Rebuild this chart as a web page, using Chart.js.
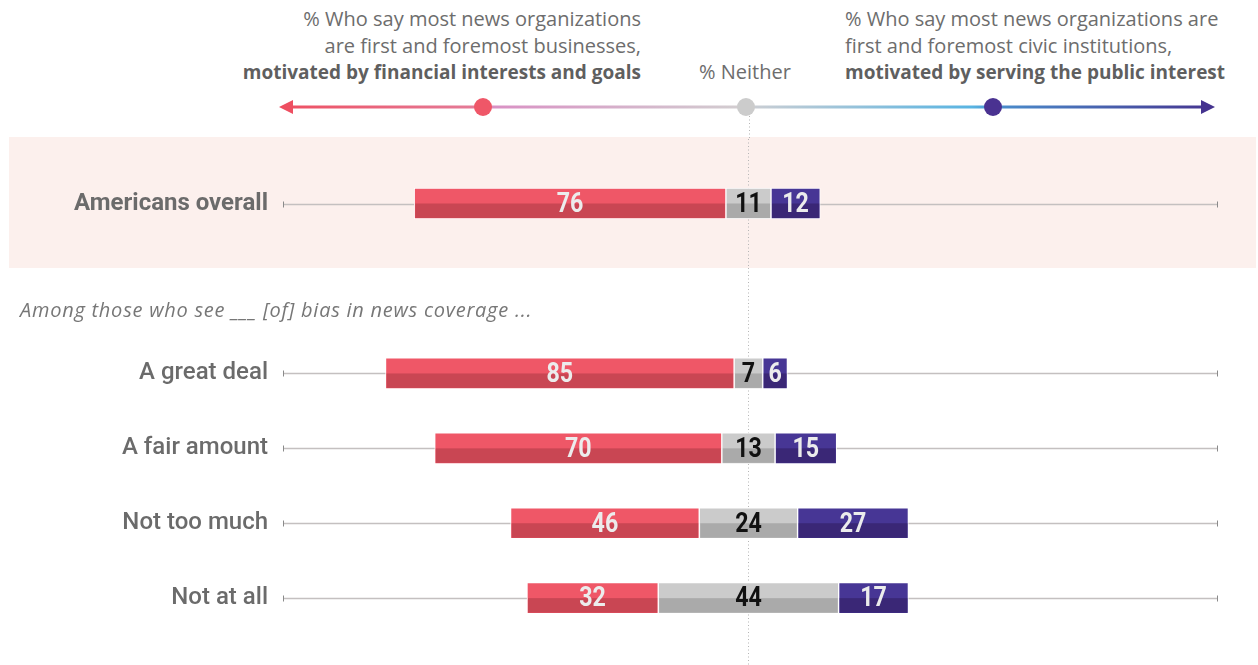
<!DOCTYPE html>
<html>
<head>
<meta charset="utf-8">
<script src="https://cdn.jsdelivr.net/npm/chart.js@4.4.1/dist/chart.umd.min.js"></script>
<style>
  html, body { margin:0; padding:0; background:#fff; }
  body { width:1258px; height:665px; position:relative; overflow:hidden; font-family: "Open Sans", Roboto, sans-serif; }
  .hdr { position:absolute; font-size:20px; line-height:26.5px; color:#6d6d6d; white-space:nowrap; }
  .hdr b { color:#5f5f5f; font-weight:700; font-size:19px; }
  #band { position:absolute; left:9px; top:137px; width:1247px; height:131px; background:#fcf0ed; }
  #c1wrap { position:absolute; left:0; top:139px; width:1258px; height:129px; }
  #c2wrap { position:absolute; left:0; top:268px; width:1258px; height:397px; }
  #among { position:absolute; left:20px; top:296px; font-size:20px; letter-spacing:0.75px; font-style:italic; color:#777; white-space:nowrap; }
  svg { position:absolute; left:0; top:0; }
</style>
</head>
<body>
<div id="band"></div>
<svg width="1258" height="140">
  <defs>
    <linearGradient id="lg" x1="280" y1="0" x2="1215" y2="0" gradientUnits="userSpaceOnUse">
      <stop offset="0" stop-color="#ee4f61"/>
      <stop offset="0.21" stop-color="#e47b98"/>
      <stop offset="0.23" stop-color="#d991c4"/>
      <stop offset="0.49" stop-color="#d2cdd0"/>
      <stop offset="0.52" stop-color="#c3ccd4"/>
      <stop offset="0.74" stop-color="#58b4e2"/>
      <stop offset="0.77" stop-color="#4a8ccb"/>
      <stop offset="1" stop-color="#45338f"/>
    </linearGradient>
  </defs>
  <line x1="749.5" y1="116" x2="749.5" y2="140" stroke="#b5b5b5" stroke-width="1" stroke-dasharray="1,2.5"/>
  <line x1="288" y1="107" x2="1206" y2="107" stroke="url(#lg)" stroke-width="3"/>
  <polygon points="279,107 293,100 293,114" fill="#ee4f61"/>
  <polygon points="1215,107 1201,100 1201,114" fill="#45338f"/>
  <circle cx="483" cy="107" r="9" fill="#ef5768"/>
  <circle cx="746" cy="107" r="9" fill="#cccccc"/>
  <circle cx="993" cy="107" r="9" fill="#4a3291"/>
</svg>
<div class="hdr" style="right:617px; top:6px; text-align:right;">% Who say most news organizations<br>are first and foremost businesses,<br><b>motivated by financial interests and goals</b></div>
<div class="hdr" style="left:699px; top:59px;">% Neither</div>
<div class="hdr" style="left:845px; top:6px;">% Who say most news organizations are<br>first and foremost civic institutions,<br><b>motivated by serving the public interest</b></div>
<div id="c1wrap"><canvas id="c1"></canvas></div>
<div id="c2wrap"><canvas id="c2"></canvas></div>
<div id="among">Among those who see ___ [of] bias in news coverage ...</div>
<script>
// ---- data ----
const overallLabel = ["Americans overall"];
const overallBusiness = [76];
const overallNeither = [11];
const overallCivic = [12];

const groupLabels = ["A great deal", "A fair amount", "Not too much", "Not at all"];
const groupBusiness = [85, 70, 46, 32];
const groupNeither = [7, 13, 24, 44];
const groupCivic = [6, 15, 27, 17];

const X_MIN = -113.5, X_MAX = 114.5;

const COLORS = {
  business: { top: "#ef5767", bottom: "#c94653", text: "#ececec" },
  neither:  { top: "#cbcbcb", bottom: "#aaaaaa", text: "#111111" },
  civic:    { top: "#473695", bottom: "#3a2776", text: "#ececec" }
};

function buildDatasets(bus, nei, civ) {
  return [
    { key: "business", values: bus, data: bus.map((b, i) => [-nei[i] / 2 - b, -nei[i] / 2]) },
    { key: "neither", values: nei, data: nei.map(n => [-n / 2, n / 2]) },
    { key: "civic", values: civ, data: civ.map((c, i) => [nei[i] / 2, nei[i] / 2 + c]) }
  ].map(d => ({
    label: d.key,
    data: d.data,
    values: d.values,
    backgroundColor: COLORS[d.key].top,
    borderColor: "rgba(255,255,255,0.9)",
    borderWidth: 1,
    borderSkipped: false,
    barThickness: 31,
    grouped: false
  }));
}

const decor = {
  id: "decor",
  beforeDatasetsDraw(chart) {
    const { ctx, chartArea, scales } = chart;
    const ys = scales.y, xs = scales.x;
    ctx.save();
    const cx = Math.round(xs.getPixelForValue(0)) + 0.5;
    ctx.strokeStyle = "#b5b5b5";
    ctx.lineWidth = 1;
    ctx.setLineDash([1, 2.5]);
    ctx.beginPath();
    ctx.moveTo(cx, 0);
    ctx.lineTo(cx, chart.height);
    ctx.stroke();
    ctx.setLineDash([]);
    ys.ticks.forEach((t, i) => {
      const y = Math.round(ys.getPixelForTick(i)) + 0.5;
      ctx.strokeStyle = "#c4c0c0";
      ctx.lineWidth = 1.5;
      ctx.beginPath();
      ctx.moveTo(chartArea.left, y);
      ctx.lineTo(chartArea.right, y);
      ctx.stroke();
      ctx.strokeStyle = "#8a8a8a";
      ctx.lineWidth = 1;
      [chartArea.left + 0.5, chartArea.right - 0.5].forEach(x => {
        ctx.beginPath();
        ctx.moveTo(x, y - 3);
        ctx.lineTo(x, y + 3);
        ctx.stroke();
      });
    });
    ctx.restore();
  },
  afterDatasetsDraw(chart) {
    const { ctx } = chart;
    ctx.save();
    chart.data.datasets.forEach((ds, di) => {
      const meta = chart.getDatasetMeta(di);
      const col = COLORS[ds.label];
      meta.data.forEach((el, i) => {
        const { x, y, base, height } = el.getProps(["x", "y", "base", "height"], true);
        const l = Math.min(x, base), r = Math.max(x, base);
        ctx.fillStyle = col.bottom;
        ctx.fillRect(l + 1, y, r - l - 2, height / 2 - 1);
        ctx.save();
        ctx.translate((l + r) / 2, y + 1.5);
        ctx.scale(0.86, 1);
        ctx.fillStyle = col.text;
        ctx.font = "bold 27px Roboto, 'Liberation Sans', sans-serif";
        ctx.textAlign = "center";
        ctx.textBaseline = "middle";
        ctx.fillText(String(ds.values[i]), 0, 0);
        ctx.restore();
      });
    });
    ctx.restore();
  }
};

function makeChart(id, labels, datasets, padTop, padBottom, labelFont) {
  return new Chart(document.getElementById(id), {
    type: "bar",
    data: { labels, datasets },
    plugins: [decor],
    options: {
      indexAxis: "y",
      responsive: true,
      maintainAspectRatio: false,
      animation: false,
      layout: { padding: { top: padTop, bottom: padBottom, right: 40, left: 0 } },
      plugins: { legend: { display: false }, tooltip: { enabled: false } },
      scales: {
        x: { min: X_MIN, max: X_MAX, display: false },
        y: {
          offset: true,
          grid: { display: false, drawTicks: false },
          border: { display: false },
          ticks: { color: "#6b6b6b", font: labelFont, padding: 15, crossAlign: "near" },
          afterFit(scale) { scale.width = 283; }
        }
      }
    }
  });
}

makeChart("c1", overallLabel, buildDatasets(overallBusiness, overallNeither, overallCivic), 18, 12,
  { family: "Roboto, 'Liberation Sans', sans-serif", size: 24, weight: "bold" });
makeChart("c2", groupLabels, buildDatasets(groupBusiness, groupNeither, groupCivic), 68, 28,
  { family: "Roboto, 'Liberation Sans', sans-serif", size: 24, weight: "500" });
</script>
</body>
</html>
